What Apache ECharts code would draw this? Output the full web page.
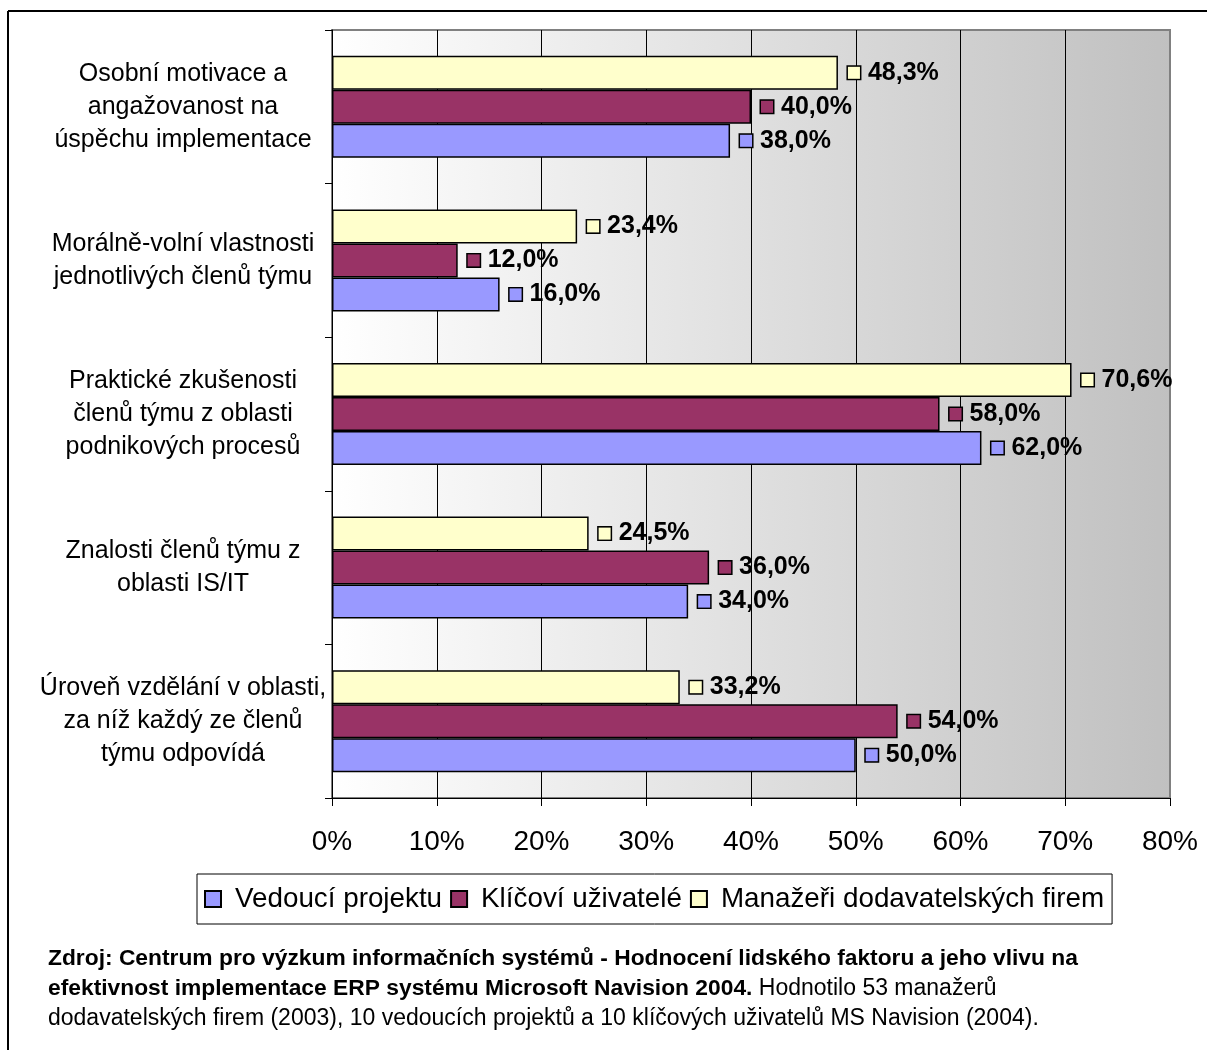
<!DOCTYPE html>
<html>
<head>
<meta charset="utf-8">
<script src="https://cdn.jsdelivr.net/npm/echarts@6/dist/echarts.min.js"></script>
<style>
html,body{margin:0;padding:0;background:#fff;}
#chart{width:1207px;height:1050px;}
</style>
</head>
<body>
<div id="chart"></div>
<script>
const categories = [
  'Osobní motivace a\nangažovanost na\núspěchu implementace',
  'Morálně-volní vlastnosti\njednotlivých členů týmu',
  'Praktické zkušenosti\nčlenů týmu z oblasti\npodnikových procesů',
  'Znalosti členů týmu z\noblasti IS/IT',
  'Úroveň vzdělání v oblasti,\nza níž každý ze členů\ntýmu odpovídá'
];
const seriesNames = ['Vedoucí projektu', 'Klíčoví uživatelé', 'Manažeři dodavatelských firem'];
const vedouci = [38.0, 16.0, 62.0, 34.0, 50.0];
const klicovi = [40.0, 12.0, 58.0, 36.0, 54.0];
const manazeri = [48.3, 23.4, 70.6, 24.5, 33.2];
const xTicks = { min: 0, max: 80, interval: 10 };
const footBold1 = 'Zdroj: Centrum pro výzkum informačních systémů - Hodnocení lidského faktoru a jeho vlivu na';
const footBold2 = 'efektivnost implementace ERP systému Microsoft Navision 2004.';
const footReg2 = ' Hodnotilo 53 manažerů';
const footReg3 = 'dodavatelských firem (2003), 10 vedoucích projektů a 10 klíčových uživatelů MS Navision (2004).';

const colors = { 'Vedoucí projektu': '#9999ff', 'Klíčoví uživatelé': '#993366', 'Manažeři dodavatelských firem': '#ffffcc' };
const FONT = '"Liberation Sans", Arial, sans-serif';

function fmt(v) { return v.toFixed(1).replace('.', ',') + '%'; }

function makeSeries(name, data) {
  return {
    name: name,
    type: 'bar',
    data: data,
    barGap: '0%',
    barCategoryGap: '33.6%',
    itemStyle: { color: colors[name], borderColor: '#000', borderWidth: 1.5 },
    label: {
      show: true,
      position: 'right',
      distance: 10,
      formatter: function (p) { return '{s|}{t|' + fmt(p.value) + '}'; },
      rich: {
        s: { width: 12, height: 12, backgroundColor: colors[name], borderColor: '#000', borderWidth: 1.5 },
        t: { fontFamily: FONT, fontSize: 25, fontWeight: 'bold', color: '#000', padding: [0, 0, 0, 8] }
      }
    }
  };
}

const chart = echarts.init(document.getElementById('chart'), null, { renderer: 'canvas' });
const gridLineColors = [];
for (let v = xTicks.min; v <= xTicks.max; v += xTicks.interval) gridLineColors.push(v === xTicks.max ? '#808080' : '#000');

chart.setOption({
  animation: false,
  backgroundColor: '#fff',
  textStyle: { fontFamily: FONT },
  grid: {
    left: 332, right: 37, top: 30, bottom: 252,
    show: true,
    borderColor: '#808080',
    borderWidth: 2,
    backgroundColor: { type: 'linear', x: 0, y: 0, x2: 1, y2: 0,
      colorStops: [{ offset: 0, color: '#ffffff' }, { offset: 1, color: '#c0c0c0' }] }
  },
  legend: {
    data: seriesNames,
    left: 197, top: 874,
    orient: 'horizontal',
    backgroundColor: '#fff',
    borderColor: '#000', borderWidth: 1,
    padding: [11, 8, 11, 7],
    itemWidth: 16, itemHeight: 16, itemGap: 8,
    icon: 'rect',
    textStyle: { fontFamily: FONT, fontSize: 27.8, color: '#000', padding: [0, 0, 0, 9] }
  },
  xAxis: {
    type: 'value',
    min: xTicks.min, max: xTicks.max, interval: xTicks.interval,
    axisLine: { show: true, lineStyle: { color: '#000', width: 1 } },
    axisTick: { show: true, length: 8, lineStyle: { color: '#000' } },
    axisLabel: { formatter: '{value}%', fontFamily: FONT, fontSize: 28, color: '#000', margin: 30 },
    splitLine: { show: true, lineStyle: { color: gridLineColors, width: 1 } }
  },
  yAxis: {
    type: 'category',
    data: categories,
    inverse: true,
    axisLine: { show: true, lineStyle: { color: '#000', width: 1 } },
    axisTick: { show: true, length: 7, lineStyle: { color: '#000' } },
    axisLabel: { fontFamily: FONT, fontSize: 25, lineHeight: 33, color: '#000', align: 'center', margin: 149 },
    splitLine: { show: false }
  },
  series: [
    makeSeries('Manažeři dodavatelských firem', manazeri),
    makeSeries('Klíčoví uživatelé', klicovi),
    makeSeries('Vedoucí projektu', vedouci)
  ],
  graphic: [
    { type: 'line', shape: { x1: 8, y1: 11, x2: 1207, y2: 11 }, style: { stroke: '#000', lineWidth: 2 } },
    { type: 'line', shape: { x1: 8, y1: 11, x2: 8, y2: 1050 }, style: { stroke: '#000', lineWidth: 2 } },
    { type: 'text', left: 48, top: 947,
      style: {
        text: '{b|' + footBold1 + '}\n{b|' + footBold2 + '}{r|' + footReg2 + '}\n{r|' + footReg3 + '}',
        rich: {
          b: { fontFamily: FONT, fontSize: 22.8, fontWeight: 'bold', lineHeight: 30, fill: '#000' },
          r: { fontFamily: FONT, fontSize: 23, lineHeight: 30, fill: '#000' }
        }
      }
    }
  ]
});
</script>
</body>
</html>
